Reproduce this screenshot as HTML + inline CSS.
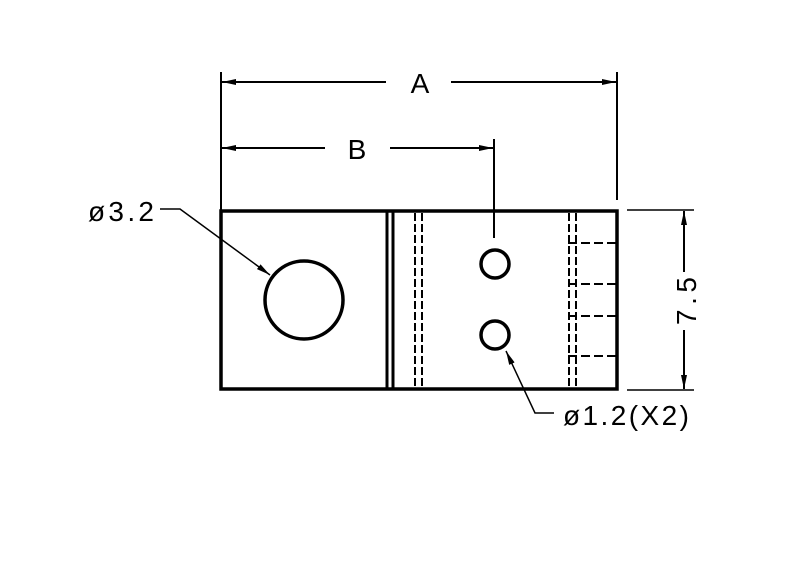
<!DOCTYPE html>
<html><head><style>html,body{margin:0;padding:0;background:#fff}svg{display:block}</style></head>
<body>
<svg width="800" height="576" viewBox="0 0 800 576" xmlns="http://www.w3.org/2000/svg">
<defs>
<marker id="ar" markerWidth="14" markerHeight="6" refX="14" refY="3" orient="auto" markerUnits="userSpaceOnUse">
<path d="M0,0 L14,3 L0,6 Z" fill="#000"/></marker>
</defs>
<g stroke="#000" fill="none">
<line x1="221" y1="72" x2="221" y2="210" stroke-width="2"/>
<line x1="617" y1="72" x2="617" y2="200" stroke-width="2"/>
<line x1="494" y1="139" x2="494" y2="238" stroke-width="2"/>
<line x1="627" y1="210" x2="694" y2="210" stroke-width="1.5"/>
<line x1="627" y1="390" x2="694" y2="390" stroke-width="1.5"/>
<line x1="386" y1="82" x2="222" y2="82" stroke-width="2" marker-end="url(#ar)"/>
<line x1="451" y1="82" x2="616" y2="82" stroke-width="2" marker-end="url(#ar)"/>
<line x1="325" y1="148" x2="222" y2="148" stroke-width="2" marker-end="url(#ar)"/>
<line x1="390" y1="148" x2="493" y2="148" stroke-width="2" marker-end="url(#ar)"/>
<line x1="684" y1="272" x2="684" y2="211" stroke-width="2" marker-end="url(#ar)"/>
<line x1="684" y1="330" x2="684" y2="389" stroke-width="2" marker-end="url(#ar)"/>
<rect x="221" y="211" width="396" height="178" stroke-width="3.5"/>
<line x1="387" y1="211" x2="387" y2="389" stroke-width="3"/>
<line x1="393" y1="211" x2="393" y2="389" stroke-width="3"/>
<g stroke-width="2" stroke-dasharray="8,3">
<line x1="415" y1="213" x2="415" y2="388"/>
<line x1="422" y1="213" x2="422" y2="388"/>
<line x1="569" y1="213" x2="569" y2="388"/>
<line x1="576" y1="213" x2="576" y2="388"/>
</g>
<g stroke-width="2" stroke-dasharray="9,4">
<line x1="568" y1="243" x2="616" y2="243"/>
<line x1="568" y1="284" x2="616" y2="284"/>
<line x1="568" y1="316" x2="616" y2="316"/>
<line x1="568" y1="356" x2="616" y2="356"/>
</g>
<circle cx="304" cy="300" r="39" stroke-width="3.5"/>
<circle cx="495" cy="264" r="14" stroke-width="3.5"/>
<circle cx="495" cy="335" r="14" stroke-width="3.5"/>
<polyline points="160,209 180,209 270,275" stroke-width="1.5" marker-end="url(#ar)"/>
<polyline points="554,413 535,413 506,351" stroke-width="1.5" marker-end="url(#ar)"/>
</g>
<g font-family="Liberation Sans, DejaVu Sans, sans-serif" font-size="28" fill="#000">
<text x="420" y="93" text-anchor="middle">A</text>
<text x="357" y="159" text-anchor="middle">B</text>
<text x="88" y="221" textLength="66" lengthAdjust="spacing">ø3.2</text>
<text x="563" y="425" textLength="126" lengthAdjust="spacing">ø1.2(X2)</text>
<text transform="translate(696,301) rotate(-90)" text-anchor="middle" textLength="48" lengthAdjust="spacing">7.5</text>
</g>
</svg>
</body></html>
